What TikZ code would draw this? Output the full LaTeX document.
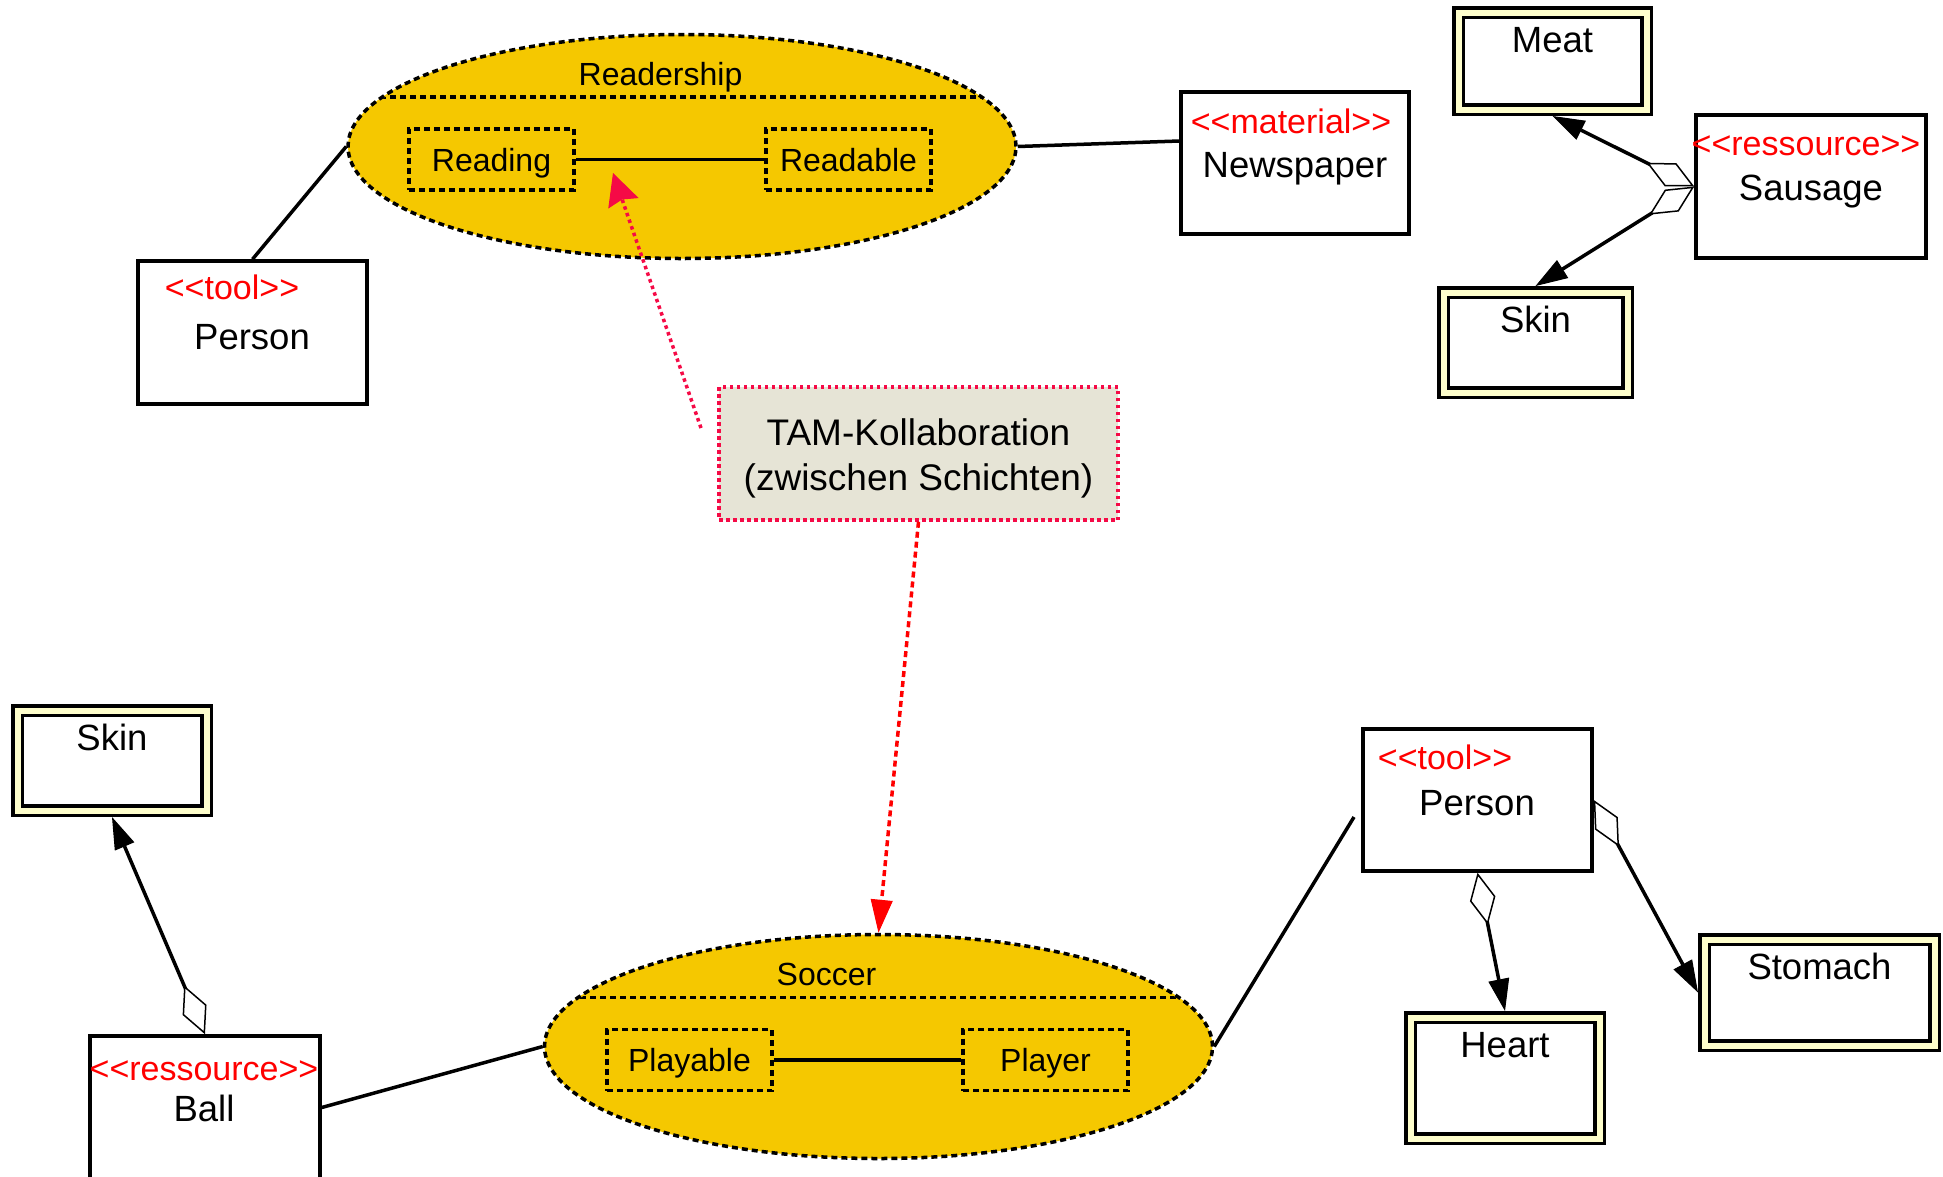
\documentclass[tikz,border=0pt]{standalone}
\usepackage{fontspec}
\setmainfont{Liberation Sans}[Ligatures=TeXOff]
\usetikzlibrary{shapes.geometric,arrows.meta,calc}
\definecolor{gold}{RGB}{245,200,0}
\definecolor{partyellow}{RGB}{255,255,204}
\definecolor{tamfill}{RGB}{230,228,214}
\definecolor{tamred}{RGB}{245,10,70}
\definecolor{sred}{RGB}{255,0,0}
\begin{document}
\begin{tikzpicture}[x=1pt,y=-1pt,
  classbox/.style={draw, line width=3.5pt, fill=white, minimum width=229pt, minimum height=143pt, inner sep=0pt},
  partbox/.style={draw, line width=3.5pt, double=partyellow, double distance=6pt, fill=white, inner sep=0pt, outer sep=6.5pt},
  stereo/.style={text=sred, font=\fontsize{34}{40}\selectfont, inner sep=0pt, anchor=base},
  cname/.style={font=\fontsize{36.5}{44}\selectfont, inner sep=0pt, anchor=base},
  collab/.style={ellipse, draw, line width=3.5pt, dash pattern=on 6pt off 4pt, fill=gold, minimum width=668pt, minimum height=224pt, inner sep=0pt},
  rolebox/.style={draw, line width=3.5pt, dash pattern=on 6pt off 4pt, minimum width=165pt, minimum height=61pt, inner sep=0pt, text height=23pt, text depth=0pt, font=\fontsize{32}{38}\selectfont},
  ctitle/.style={font=\fontsize{32}{38}\selectfont, inner sep=0pt, anchor=base},
  divider/.style={line width=3.5pt, dash pattern=on 6pt off 4pt},
  assoc/.style={line width=3.5pt},
  agg/.style={line width=3.5pt, {Diamond[length=53pt,width=26pt,fill=white,line width=1.5pt]}-{Triangle[length=32pt,width=21pt,line width=1pt]}},
  tambox/.style={draw=tamred, line width=3.5pt, dash pattern=on 3.5pt off 3.5pt, fill=tamfill, minimum width=399pt, minimum height=133pt, inner sep=0pt},
  tamtext/.style={inner sep=0pt, align=center, font=\fontsize{37}{45}\selectfont},
  tamarrowA/.style={draw=tamred, line width=3.5pt, dash pattern=on 3.5pt off 3.5pt, -{Stealth[length=32pt,width=32pt,inset=4pt,line width=1pt]}},
  tamarrowB/.style={draw=sred, line width=3.5pt, dash pattern=on 6pt off 4pt, -{Triangle[length=33pt,width=22pt,line width=1pt]}}
]
\useasboundingbox (0,0) rectangle (1943,1176);

% ---------- Readership collaboration ----------
\node[collab] (Readership) at (682,146.5) {};
\begin{scope}
  \clip (Readership.center) ellipse [x radius=332pt, y radius=110pt];
  \draw[divider] (330,97) -- (1040,97);
\end{scope}
\node[ctitle] (ReadershipT) at (660.5,85) {Readership};
\node[rolebox] (Reading) at (491.5,159.5) {Reading};
\node[rolebox] (Readable) at (848.5,159.5) {Readable};
\draw[assoc] (Reading.east) -- (Readable.west);

% ---------- Soccer collaboration ----------
\node[collab] (Soccer) at (878.5,1046.5) {};
\begin{scope}
  \clip (Soccer.center) ellipse [x radius=332pt, y radius=110pt];
  \draw[divider] (530,997.5) -- (1230,997.5);
\end{scope}
\node[ctitle] (SoccerT) at (826.5,985.5) {Soccer};
\node[rolebox] (Playable) at (689.5,1060) {Playable};
\node[rolebox] (Player) at (1045.5,1060) {Player};
\draw[assoc] (Playable.east) -- (Player.west);

% ---------- class boxes ----------
\node[classbox] (Person1) at (252.5,332.5) {};
\node[stereo] (Person1S) at (232,299) {<<tool>>};
\node[cname] (Person1N) at (252,349) {Person};

\node[classbox, minimum width=228pt, minimum height=142pt] (Newspaper) at (1295,163) {};
\node[stereo] (NewspaperS) at (1291,133) {<<material>>};
\node[cname] (NewspaperN) at (1295,177) {Newspaper};

\node[classbox, minimum width=230pt] (Sausage) at (1811,186.5) {};
\node[stereo] (SausageS) at (1806,155) {<<ressource>>};
\node[cname] (SausageN) at (1811,200) {Sausage};

\node[classbox, minimum width=230pt] (Ball) at (205,1107.5) {};
\node[stereo] (BallS) at (204,1080) {<<ressource>>};
\node[cname] (BallN) at (204,1121) {Ball};

\node[classbox, minimum height=142pt] (Person2) at (1477.5,800) {};
\node[stereo] (Person2S) at (1445,769) {<<tool>>};
\node[cname] (Person2N) at (1477,815) {Person};

% ---------- part boxes ----------
\node[partbox, minimum width=188pt, minimum height=97pt] (Meat) at (1552.5,61) {};
\node[cname] (MeatT) at ([yshift=-46pt]Meat.north) {Meat};
\node[partbox, minimum width=184pt, minimum height=100pt] (SkinA) at (1535.5,342.5) {};
\node[cname] (SkinAT) at ([yshift=-46pt]SkinA.north) {Skin};
\node[partbox, minimum width=189pt, minimum height=100pt] (SkinB) at (112,760.5) {};
\node[cname] (SkinBT) at ([yshift=-46pt]SkinB.north) {Skin};
\node[partbox, minimum width=189pt, minimum height=121pt] (Heart) at (1505,1078) {};
\node[cname] (HeartT) at ([yshift=-46pt]Heart.north) {Heart};
\node[partbox, minimum width=230pt, minimum height=106pt] (Stomach) at (1819.5,992.5) {};
\node[cname] (StomachT) at ([yshift=-46pt]Stomach.north) {Stomach};

% ---------- TAM note ----------
\node[tambox] (TAM) at (918.5,453.5) {};
\node[tamtext] (TAMT) at (918.5,458.5) {TAM-Kollaboration\\(zwischen Schichten)};

% ---------- connectors ----------
\draw[assoc] (Person1.north) -- (Readership.west);
\draw[assoc] (Readership.east) -- ([yshift=22pt]Newspaper.west);
\draw[agg] (Sausage.west) -- (Meat.south);
\draw[agg] (Sausage.west) -- (SkinA.north);
\draw[agg] (Ball.north) -- (SkinB.south);
\draw[assoc] (Ball.east) -- (Soccer.west);
\coordinate (PersonFree) at (1354,817);
\draw[assoc] (Soccer.east) -- (PersonFree);
\draw[agg] (Person2.south) -- (Heart.north);
\draw[agg] (Person2.east) -- (Stomach.west);

\coordinate (TamStart) at (701,428);
\coordinate (TamEnd) at (613,173);
\draw[tamarrowA] (TamStart) -- (TamEnd);
\draw[tamarrowB] (TAM.south) -- (Soccer.north);
\end{tikzpicture}
\end{document}
